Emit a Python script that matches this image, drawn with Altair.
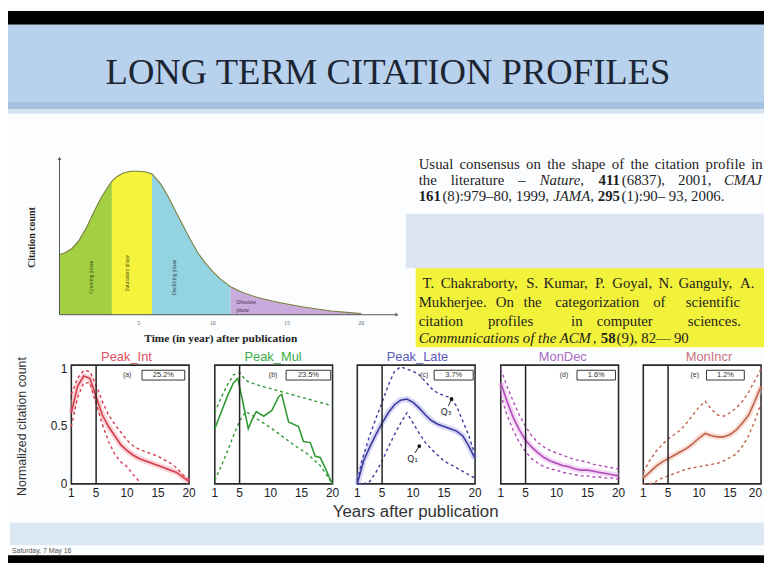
import altair as alt
import pandas as pd

# ---------------- data ----------------
title_text = "LONG TERM CITATION PROFILES"

# schematic citation profile (top-left)
curve_t = [-0.33, 0, 0.5, 1, 1.5, 2, 2.5, 3, 3.2, 3.5, 4, 4.5, 5, 5.5, 5.9, 6, 6.5, 7, 7.5,
           8, 8.5, 9, 9.5, 10, 10.5, 11, 11.2, 12, 13, 14, 15, 16, 17, 18, 19, 20]
curve_c = [0.42, 0.43, 0.46, 0.52, 0.61, 0.72, 0.82, 0.90, 0.93, 0.96, 0.99, 1.0, 1.0, 0.995,
           0.98, 0.97, 0.91, 0.82, 0.72, 0.62, 0.52, 0.43, 0.36, 0.30, 0.25, 0.21, 0.195,
           0.155, 0.12, 0.095, 0.075, 0.055, 0.04, 0.026, 0.016, 0.008]
phase_names = ["Growing phase", "Saturation phase", "Declining phase", "Obsolete phase"]
phase_start = [-0.33, 3.2, 5.9, 11.2]
phase_end = [3.2, 5.9, 11.2, 20]
schema_ticks = [5, 10, 15, 20]

# five citation-profile categories (bottom)
years = list(range(1, 21))
panel_names = ["Peak_Int", "Peak_Mul", "Peak_Late", "MonDec", "MonIncr"]
panel_tags = ["(a)", "(b)", "(c)", "(d)", "(e)"]
panel_share = ["25.2%", "23.5%", "3.7%", "1.6%", "1.2%"]
panel_ticks = [1, 5, 10, 15, 20]

peak_int_mean = [0.62, 0.85, 0.94, 0.92, 0.76, 0.60, 0.50, 0.42, 0.34, 0.29,
                 0.25, 0.22, 0.20, 0.18, 0.16, 0.14, 0.12, 0.10, 0.06, 0.02]
peak_int_q3 = [0.78, 0.92, 0.99, 0.98, 0.86, 0.72, 0.60, 0.52, 0.45, 0.38,
               0.33, 0.30, 0.28, 0.26, 0.24, 0.21, 0.18, 0.14, 0.08, 0.04]
peak_int_q1_years = list(range(1, 13))
peak_int_q1 = [0.50, 0.75, 0.88, 0.88, 0.70, 0.52, 0.37, 0.26, 0.19, 0.15, 0.08, 0.02]

peak_mul_mean_years = [1, 2, 3, 4, 4.7, 5.5, 6.4, 7.0, 7.7, 8.9, 10.2, 11.3, 11.8, 12.9,
                       14.5, 15.3, 16.4, 17.2, 18.0, 18.8, 19.7, 20]
peak_mul_mean = [0.48, 0.62, 0.76, 0.88, 0.92, 0.72, 0.48, 0.56, 0.63, 0.59, 0.64, 0.76,
                 0.78, 0.54, 0.50, 0.37, 0.36, 0.24, 0.23, 0.14, 0.03, 0.0]
peak_mul_q3_years = [1, 2, 3, 4, 5, 6, 8, 10, 12, 14, 16, 18, 20]
peak_mul_q3 = [0.62, 0.75, 0.86, 0.95, 0.97, 0.90, 0.86, 0.83, 0.80, 0.77, 0.74, 0.71, 0.68]
peak_mul_q1_years = [1, 2, 3, 4, 5, 6, 7, 8, 10, 12, 14, 16, 17, 18, 19, 20]
peak_mul_q1 = [0.03, 0.15, 0.28, 0.42, 0.55, 0.63, 0.60, 0.56, 0.49, 0.41, 0.33, 0.26,
               0.21, 0.16, 0.08, 0.0]

peak_late_mean = [0.0, 0.20, 0.32, 0.43, 0.53, 0.62, 0.69, 0.73, 0.74, 0.71,
                  0.66, 0.60, 0.55, 0.52, 0.50, 0.48, 0.46, 0.42, 0.33, 0.22]
peak_late_q3 = [0.03, 0.25, 0.42, 0.57, 0.71, 0.86, 0.98, 1.02, 1.0, 0.98,
                0.95, 0.89, 0.83, 0.79, 0.77, 0.75, 0.68, 0.55, 0.42, 0.25]
peak_late_q1 = [0.0, 0.0, 0.02, 0.10, 0.20, 0.32, 0.43, 0.53, 0.62, 0.53,
                0.44, 0.36, 0.30, 0.25, 0.20, 0.17, 0.14, 0.11, 0.08, 0.05]

mon_dec_mean = [0.88, 0.72, 0.58, 0.47, 0.38, 0.32, 0.27, 0.23, 0.20, 0.18,
                0.16, 0.15, 0.13, 0.12, 0.12, 0.11, 0.10, 0.09, 0.08, 0.07]
mon_dec_q3 = [1.0, 0.85, 0.72, 0.60, 0.50, 0.42, 0.36, 0.32, 0.29, 0.27,
              0.25, 0.23, 0.21, 0.20, 0.19, 0.17, 0.16, 0.15, 0.14, 0.13]
mon_dec_q1 = [0.78, 0.60, 0.47, 0.36, 0.28, 0.22, 0.18, 0.15, 0.13, 0.12,
              0.10, 0.09, 0.08, 0.07, 0.07, 0.06, 0.06, 0.05, 0.05, 0.04]

mon_incr_mean = [0.05, 0.10, 0.15, 0.19, 0.22, 0.25, 0.28, 0.31, 0.35, 0.40,
                 0.44, 0.42, 0.41, 0.41, 0.43, 0.47, 0.53, 0.60, 0.72, 0.85]
mon_incr_q3 = [0.10, 0.20, 0.28, 0.34, 0.39, 0.43, 0.47, 0.53, 0.60, 0.67,
               0.72, 0.65, 0.60, 0.59, 0.62, 0.66, 0.72, 0.80, 0.90, 1.0]
mon_incr_q1 = [0.0, 0.0, 0.02, 0.05, 0.07, 0.09, 0.11, 0.13, 0.14, 0.15,
               0.16, 0.17, 0.18, 0.20, 0.23, 0.26, 0.33, 0.42, 0.55, 0.70]

# quartile markers in Peak_Late
q_marks = ["Q\u2083", "Q\u2081"]
q_mark_year = [16.2, 11.0]
q_mark_val = [0.74, 0.33]

# ---------------- helpers ----------------
W, H = 764, 558
SERIF = "Liberation Serif"
SANS = "Liberation Sans"
DUMMY = pd.DataFrame({"d": [0]})
layers = []


def prect(x, x2, y, y2, fill):
    return alt.Chart(DUMMY).mark_rect(fill=fill).encode(
        x=alt.value(x), x2=alt.value(x2), y=alt.value(y), y2=alt.value(y2))


def ptext(s, x, y, size, font=SERIF, style="normal", weight="normal", color="#1e1e1e",
          align="left", angle=0, baseline="middle"):
    return alt.Chart(DUMMY).mark_text(
        text=s, fontSize=size, font=font, fontStyle=style, fontWeight=weight, color=color,
        align=align, baseline=baseline, angle=angle).encode(x=alt.value(x), y=alt.value(y))


def dx_(v, sc):
    return alt.XDatum(v, scale=sc, axis=None, type="quantitative")


def dy_(v, sc):
    return alt.YDatum(v, scale=sc, axis=None, type="quantitative")


def dtext(s, xv, yv, xs, ys, size, font=SANS, color="#222", align="center",
          baseline="middle", dx=0, dy=0, angle=0, weight="normal"):
    return alt.Chart(DUMMY).mark_text(
        text=s, fontSize=size, font=font, color=color, align=align, baseline=baseline,
        dx=dx, dy=dy, angle=angle, fontWeight=weight).encode(x=dx_(xv, xs), y=dy_(yv, ys))


def dline(xv, yv, xs, ys, color, width=1.5, dash=None, opacity=1.0):
    kw = dict(color=color, strokeWidth=width, opacity=opacity)
    if dash:
        kw["strokeDash"] = dash
    return alt.Chart(pd.DataFrame({"x": xv, "y": yv})).mark_line(**kw).encode(
        x=alt.X("x:Q", scale=xs, axis=None), y=alt.Y("y:Q", scale=ys, axis=None))


# ---------------- page background ----------------
layers += [
    prect(0, W, 0, 14, "#000000"),
    prect(0, W, 14, 92, "#b8d2ee"),
    prect(0, W, 92, 99, "#a6c2e3"),
    prect(0, W, 99, 104, "#d5e3f3"),
    prect(402, W, 205, 260, "#dbe5f3"),
    prect(412, W, 260, 340, "#f3f23a"),
    prect(2, W, 517, 540, "#dce7f4"),
    prect(0, W, 550, H, "#000000"),
]
layers.append(ptext(title_text, 384, 63, 37, color="#1c2633", align="center"))
layers.append(ptext("Saturday, 7 May 16", 4, 546, 7, font=SANS, color="#555"))

# ---------------- schematic profile ----------------
XA = alt.Scale(domain=[0, 20], range=[57, 357], nice=False, zero=False)
YA = alt.Scale(domain=[0, 1], range=[307, 162], nice=False, zero=False)
phase_colors = ["#a3d043", "#f5f33c", "#93d3e2", "#c8aadd"]
for i in range(4):
    tt = [t for t in curve_t if phase_start[i] <= t <= phase_end[i]]
    cc = [c for t, c in zip(curve_t, curve_c) if phase_start[i] <= t <= phase_end[i]]
    layers.append(alt.Chart(pd.DataFrame({"t": tt, "c": cc})).mark_area(
        color=phase_colors[i], opacity=1).encode(
        x=alt.X("t:Q", scale=XA, axis=None), y=alt.Y("c:Q", scale=YA, axis=None)))
layers.append(dline(curve_t, curve_c, XA, YA, "#7b7f3c", width=1.1))
layers.append(alt.Chart(DUMMY).mark_rule(color="#555", strokeWidth=1).encode(
    x=dx_(-0.33, XA), y=dy_(0, YA), y2=alt.Y2Datum(1.08)))
layers.append(alt.Chart(DUMMY).mark_rule(color="#555", strokeWidth=1).encode(
    x=dx_(-0.33, XA), x2=alt.X2Datum(22.3), y=dy_(0, YA)))
layers.append(alt.Chart(DUMMY).mark_point(shape="triangle-up", filled=True, size=14,
                                          color="#555", opacity=1).encode(
    x=dx_(-0.33, XA), y=dy_(1.09, YA)))
layers.append(alt.Chart(DUMMY).mark_point(shape="triangle-right", filled=True, size=14,
                                          color="#555", opacity=1).encode(
    x=dx_(22.4, XA), y=dy_(0, YA)))
for tk in schema_ticks:
    layers.append(dtext(str(tk), tk, 0, XA, YA, 6, font=SERIF, color="#666", dy=8))
layers.append(dtext(phase_names[0], 1.8, 0.26, XA, YA, 5.5, font=SERIF, color="#2a3a10", angle=270))
layers.append(dtext(phase_names[1], 4.2, 0.29, XA, YA, 5.5, font=SERIF, color="#3a3a10", angle=270))
layers.append(dtext(phase_names[2], 7.4, 0.26, XA, YA, 5.5, font=SERIF, color="#1a3a4a", angle=270))
layers.append(dtext(phase_names[3].split()[0], 11.6, 0.09, XA, YA, 5.5, font=SERIF,
                    color="#3a2a4a", align="left"))
layers.append(dtext(phase_names[3].split()[1], 11.6, 0.03, XA, YA, 5.5, font=SERIF,
                    color="#3a2a4a", align="left"))
layers.append(ptext("Time (in year) after publication", 215, 332, 11.5, weight="bold",
                    color="#222", align="center"))
layers.append(ptext("Citation count", 24, 229, 10, weight="bold", color="#222",
                    align="center", angle=270))

# ---------------- reference text ----------------
FS = 15
line_y = [155, 171, 187]
for s, x in [("Usual", 415), ("consensus", 456.3), ("on", 523.6), ("the", 544.9),
             ("shape", 569.6), ("of", 610.1), ("the", 629), ("citation", 653.6),
             ("profile", 705), ("in", 751)]:
    layers.append(ptext(s, x, line_y[0], FS))
for s, x, st, wt in [("the", 415, "normal", "normal"), ("literature", 447.4, "normal", "normal"),
                     ("\u2013", 515.7, "normal", "normal"), ("Nature,", 537.3, "italic", "normal"),
                     ("411", 596.8, "normal", "bold"), ("(6837),", 620.3, "normal", "normal"),
                     ("2001,", 677.1, "normal", "normal"), ("CMAJ", 723.5, "italic", "normal")]:
    layers.append(ptext(s, x, line_y[1], FS, style=st, weight=wt))
for s, x, st, wt in [("161", 415, "normal", "bold"), ("(8):979\u201380, 1999,", 439, "normal", "normal"),
                     ("JAMA,", 551, "italic", "normal"),
                     ("295", 596, "normal", "bold"), ("(1):90\u2013 93, 2006.", 620, "normal", "normal")]:
    layers.append(ptext(s, x, line_y[2], FS, style=st, weight=wt))

ybox = [275, 294, 313, 331]
for s, x in [("T.", 419), ("Chakraborty,", 437.3), ("S.", 523.7), ("Kumar,", 541.2), ("P.", 593.1),
             ("Goyal,", 610.6), ("N.", 657.4), ("Ganguly,", 677.5), ("A.", 739.8)]:
    layers.append(ptext(s, x, ybox[0], FS))
for s, x in [("Mukherjee.", 415), ("On", 493), ("the", 521), ("categorization", 553),
             ("of", 652), ("scientific", 685)]:
    layers.append(ptext(s, x, ybox[1], FS))
for s, x in [("citation", 415), ("profiles", 485), ("in", 569), ("computer", 595),
             ("sciences.", 687)]:
    layers.append(ptext(s, x, ybox[2], FS))
for s, x, st, wt in [("Communications of the ACM", 415, "italic", "normal"),
                     (",", 591, "normal", "normal"), ("58", 599, "normal", "bold"),
                     ("(9), 82\u2014\u200990", 615, "normal", "normal")]:
    layers.append(ptext(s, x, ybox[3], FS, style=st, weight=wt))

# ---------------- five category panels ----------------
PX0 = [64, 209, 353, 498, 642]
PW = 119
SY = alt.Scale(domain=[0, 1], range=[478, 362], nice=False, zero=False)
line_col = ["#d63a4a", "#2f9a35", "#3a3aa0", "#b04ab6", "#c0604e"]
title_col = ["#e0505e", "#3cae45", "#5a5ab8", "#a86cc4", "#c8707a"]
halo_col = ["#f4a0aa", None, "#a8a8e6", "#e6a6ec", "#f2bca6"]
title_x = [9.9, 10.4, 10.7, 11.0, 11.6]
tag_x = [10.0, 10.4, 11.8, 11.2, 9.3]
box_x = [(12.4, 19.3), (12.5, 19.7), (13.4, 19.7), (13.3, 19.5), (11.2, 17.3)]
series = [
    ((years, peak_int_mean), (years, peak_int_q3), (peak_int_q1_years, peak_int_q1)),
    ((peak_mul_mean_years, peak_mul_mean), (peak_mul_q3_years, peak_mul_q3),
     (peak_mul_q1_years, peak_mul_q1)),
    ((years, peak_late_mean), (years, peak_late_q3), (years, peak_late_q1)),
    ((years, mon_dec_mean), (years, mon_dec_q3), (years, mon_dec_q1)),
    ((years, mon_incr_mean), (years, mon_incr_q3), (years, mon_incr_q1)),
]
for i in range(5):
    SX = alt.Scale(domain=[1, 20], range=[PX0[i], PX0[i] + PW], nice=False, zero=False)
    layers.append(alt.Chart(DUMMY).mark_rect(fill="white", stroke="#2a2a2a", strokeWidth=1.6).encode(
        x=dx_(1, SX), x2=alt.X2Datum(20), y=dy_(0, SY), y2=alt.Y2Datum(1.035)))
    (mx, my), (ux, uy), (lx, ly) = series[i]
    if halo_col[i]:
        layers.append(dline(mx, my, SX, SY, halo_col[i], width=6, opacity=0.45))
    layers.append(dline(ux, uy, SX, SY, line_col[i], width=1.4, dash=[3, 3]))
    layers.append(dline(lx, ly, SX, SY, line_col[i], width=1.4, dash=[3, 3]))
    layers.append(dline(mx, my, SX, SY, line_col[i], width=1.6))
    layers.append(alt.Chart(DUMMY).mark_rule(color="#222", strokeWidth=1.5).encode(
        x=dx_(5, SX), y=dy_(0, SY), y2=alt.Y2Datum(1.035)))
    layers.append(dtext(panel_names[i], title_x[i], 1.035, SX, SY, 13, color=title_col[i],
                        baseline="bottom", dy=-1))
    layers.append(dtext(panel_tags[i], tag_x[i], 0.95, SX, SY, 7, color="#333"))
    layers.append(alt.Chart(DUMMY).mark_rect(fill="white", stroke="#333", strokeWidth=1).encode(
        x=dx_(box_x[i][0], SX), x2=alt.X2Datum(box_x[i][1]), y=dy_(0.905, SY), y2=alt.Y2Datum(0.99)))
    layers.append(dtext(panel_share[i], (box_x[i][0] + box_x[i][1]) / 2, 0.948, SX, SY, 7.5,
                        color="#333"))
    for tk in panel_ticks:
        if i == 4 and tk == 20:
            layers.append(dtext(str(tk), tk, 0, SX, SY, 12, color="#222", dy=9,
                                align="right", dx=1))
        else:
            layers.append(dtext(str(tk), tk, 0, SX, SY, 12, color="#222", dy=9))
    if i == 0:
        for v, s in [(1, "1"), (0.5, "0.5"), (0, "0")]:
            layers.append(dtext(s, 1, v, SX, SY, 12, color="#222", align="right", dx=-4))
    if i == 2:
        for s, yr, val, tx, ty in zip(q_marks, q_mark_year, q_mark_val, [15.3, 9.9], [0.63, 0.22]):
            layers.append(alt.Chart(DUMMY).mark_rule(color="#222", strokeWidth=1).encode(
                x=dx_(tx + 0.4, SX), x2=alt.X2Datum(yr), y=dy_(ty + 0.05, SY), y2=alt.Y2Datum(val)))
            layers.append(alt.Chart(DUMMY).mark_point(filled=True, size=14, color="#111", opacity=1).encode(
                x=dx_(yr, SX), y=dy_(val, SY)))
            layers.append(dtext(s, tx, ty, SX, SY, 9, font="DejaVu Sans", color="#222"))

layers.append(ptext("Normalized citation count", 14, 420, 12.5, font=SANS, color="#333",
                    align="center", angle=270))
layers.append(ptext("Years after publication", 412, 506, 17, font=SANS, color="#333",
                    align="center"))

chart = alt.layer(*layers).resolve_scale(x="independent", y="independent").properties(
    width=W, height=H, autosize=alt.AutoSizeParams(type="none"), padding=0,
    background="#fcfdfe").configure_view(stroke=None)

chart.save("out.html", embed_options={"renderer": "svg", "actions": False})
